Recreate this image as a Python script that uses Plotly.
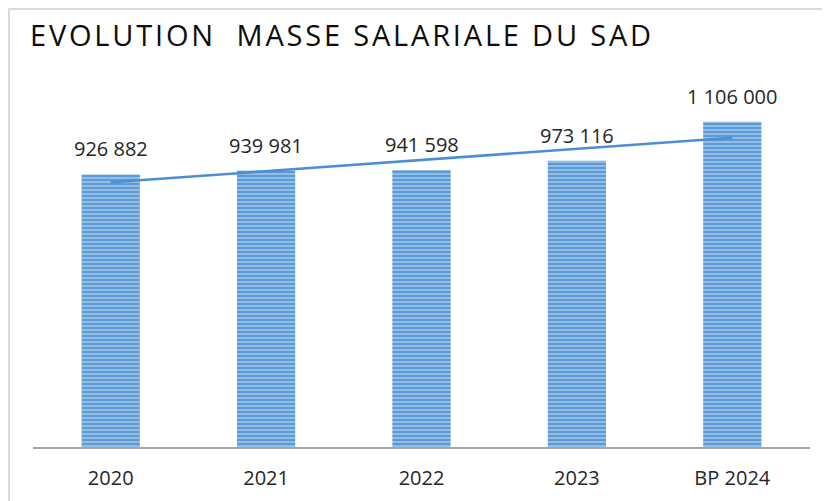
import plotly.graph_objects as go

categories = ["2020", "2021", "2022", "2023", "BP 2024"]
values = [926882, 939981, 941598, 973116, 1106000]
trend_categories = ["2020", "BP 2024"]
trend_values = [900000, 1052000]
title_text = "EVOLUTION\u00a0 MASSE SALARIALE DU SAD"

def fmt(v):
    return f"{v:,}".replace(",", " ")

W, H = 830, 501
ml, mr, mt, mb = 25, 28, 52, 62
pw, ph = W - ml - mr, H - mt - mb

fig = go.Figure()
fig.add_trace(go.Bar(
    x=categories, y=values,
    marker=dict(
        color="#5b9bd5",
        line=dict(width=0),
        pattern=dict(shape="-", bgcolor="#5b9bd5", fgcolor="#e2ecf8",
                     size=4, solidity=0.42, fillmode="overlay"),
    ),
    width=0.375,
    hoverinfo="skip",
))
fig.add_trace(go.Scatter(
    x=trend_categories, y=trend_values, mode="lines",
    line=dict(color="#4a8fd3", width=2.5),
    hoverinfo="skip",
))

# data labels (category axis positions given by category index)
for i, v in enumerate(values):
    fig.add_annotation(x=i, y=v, xref="x", yref="y", text=fmt(v), showarrow=False,
                       yanchor="bottom", yshift=10,
                       font=dict(family="Open Sans", size=20, color="#262626"))

# chart frame lines (top and left)
fig.add_shape(type="line", xref="paper", yref="paper",
              x0=(0.5 - ml) / pw, x1=(W + 5 - ml) / pw,
              y0=(H - mb - 1) / ph, y1=(H - mb - 1) / ph,
              line=dict(color="#d9d9d9", width=2))
fig.add_shape(type="line", xref="paper", yref="paper",
              x0=(1 - ml) / pw, x1=(1 - ml) / pw,
              y0=(H - mb - 0.5) / ph, y1=-(mb + 5) / ph,
              line=dict(color="#d9d9d9", width=2))

fig.update_layout(
    width=W, height=H,
    margin=dict(l=ml, r=mr, t=mt, b=mb),
    paper_bgcolor="white", plot_bgcolor="white",
    showlegend=False,
    title=dict(
        text=f'<span style="letter-spacing:2.8px">{title_text}</span>',
        xref="container", yref="container",
        x=22 / W, xanchor="left", y=1 - 28 / H, yanchor="middle",
        font=dict(family="Open Sans", size=29, color="#0d0d0d"),
    ),
    xaxis=dict(
        type="category", categoryorder="array", categoryarray=categories,
        range=[-0.5, len(categories) - 0.5],
        showline=True, linecolor="#a6a6a6", linewidth=2,
        showgrid=False, ticks="", ticklabelstandoff=12,
        tickfont=dict(family="Open Sans", size=20, color="#262626"),
        fixedrange=True,
    ),
    yaxis=dict(
        range=[0, 1316000], visible=False, showgrid=False, zeroline=False,
        fixedrange=True,
    ),
)

fig.write_html("out.html")
